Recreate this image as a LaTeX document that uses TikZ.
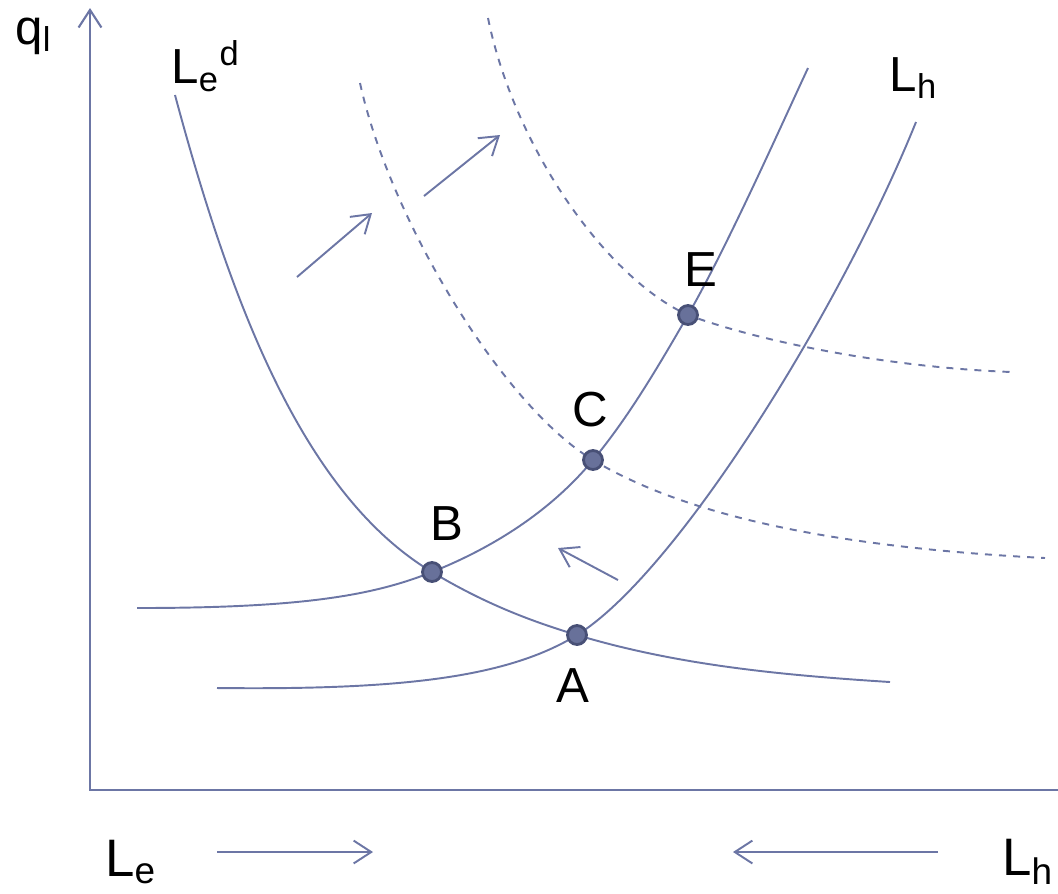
\documentclass[tikz,border=0pt]{standalone}
\usepackage{fontspec}
\setmainfont{Liberation Sans}
\usepackage{tikz}
\usetikzlibrary{arrows.meta, positioning, calc}

\definecolor{curveblue}{RGB}{108,118,165}
\definecolor{dotfill}{RGB}{104,113,154}
\definecolor{dotline}{RGB}{72,80,118}

\begin{document}
\begin{tikzpicture}[
    x=0.01cm, y=-0.01cm,
    curve/.style={draw=curveblue, line width=0.55pt},
    shifted/.style={curve, dash pattern=on 2pt off 2pt},
    axis/.style={draw=curveblue, line width=0.6pt},
    arrow/.style={curveblue, line width=0.55pt, -{Straight Barb[length=5pt, width=6.5pt]}},
    dot/.style={circle, fill=dotfill, draw=dotline, line width=0.8pt, minimum size=5.4pt, inner sep=0pt},
    lbl/.style={font=\fontsize{14}{16}\selectfont, inner sep=0pt}
]
    \useasboundingbox (0,0) rectangle (1058,893);

    % axes
    \coordinate (origin) at (90,790);
    \coordinate (ytop) at (90,8);
    \coordinate (xend) at (1058,790);
    \draw[axis, {Straight Barb[length=5pt, width=6.5pt]}-] (ytop) -- (origin) -- (xend);

    % intersection points
    \coordinate (A) at (577,635);
    \coordinate (B) at (432,572);
    \coordinate (C) at (593,460);
    \coordinate (E) at (688,315);

    % labour demand
    \draw[curve] (175,95) .. controls (230,300) and (302,494) .. (B)
        .. controls (482,602) and (527,620) .. (A)
        .. controls (677,665) and (780,675) .. (890,682);
    % supply curves
    \draw[curve] (137,608) .. controls (300,608) and (372,596) .. (B)
        .. controls (492,548) and (550,512) .. (C)
        .. controls (628,418) and (658,367) .. (E)
        .. controls (728,245) and (780,128) .. (808,68);
    \draw[curve] (217,688) .. controls (400,690) and (507,678) .. (A)
        .. controls (677,573) and (840,310) .. (916,122);
    % shifted demand curves
    \draw[shifted] (360,83) .. controls (390,220) and (503,406) .. (C)
        .. controls (693,520) and (850,548) .. (1045,558);
    \draw[shifted] (488,18) .. controls (515,150) and (608,279) .. (E)
        .. controls (770,345) and (900,368) .. (1012,372);

    % points
    \node[dot] (dotA) at (A) {};
    \node[dot] (dotB) at (B) {};
    \node[dot] (dotC) at (C) {};
    \node[dot] (dotE) at (E) {};

    \node[lbl] (labA) at (573,686) {A};
    \node[lbl] (labB) at (447,524) {B};
    \node[lbl] (labC) at (590,410) {C};
    \node[lbl] (labE) at (701,270) {E};

    % curve labels
    \node[lbl] (ql) at (34,36) {q\textsubscript{l}};
    \node[lbl] (Led) at (206,66) {L\textsubscript{e}\textsuperscript{d}};
    \node[lbl] (Lh) at (914,78) {L\textsubscript{h}};

    % shift arrows
    \coordinate (s1) at (297,277);
    \coordinate (e1) at (372,213);
    \coordinate (s2) at (424,196);
    \coordinate (e2) at (500,135);
    \coordinate (s3) at (618,580);
    \coordinate (e3) at (558,548);
    \draw[arrow] (s1) -- (e1);
    \draw[arrow] (s2) -- (e2);
    \draw[arrow] (s3) -- (e3);

    % bottom labels
    \node[lbl, font=\fontsize{15}{17}\selectfont] (Le) at (131,862) {L\textsubscript{e}};
    \node[lbl, font=\fontsize{15}{17}\selectfont] (Lhb) at (1028,862) {L\textsubscript{h}};
    \coordinate (b1) at (217,852);
    \coordinate (b2) at (373,852);
    \coordinate (b3) at (938,852);
    \coordinate (b4) at (733,852);
    \draw[arrow] (b1) -- (b2);
    \draw[arrow] (b3) -- (b4);
\end{tikzpicture}
\end{document}
